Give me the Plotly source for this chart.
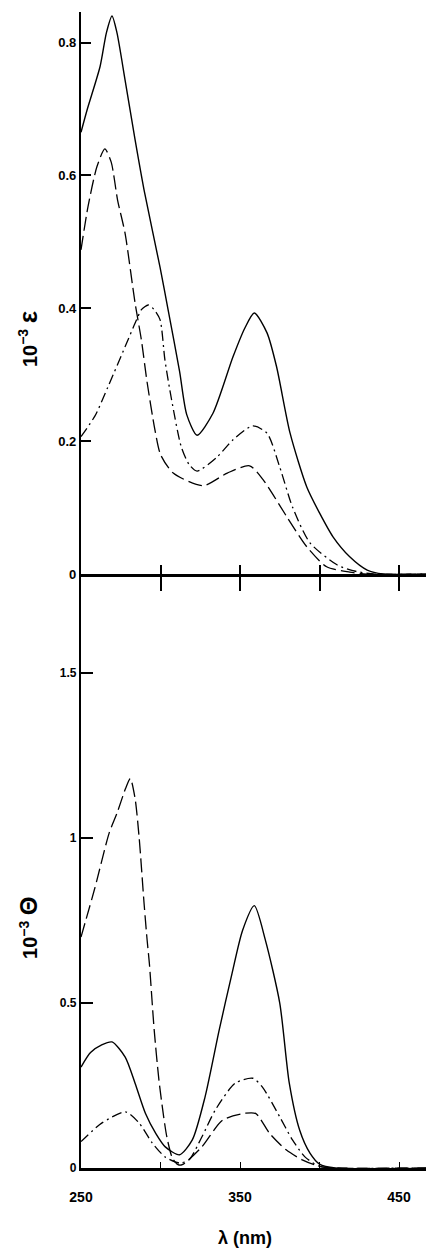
import plotly.graph_objects as go

# ---------------- data ----------------
# Top panel: absorption, 10^-3 epsilon
eps_solid_wl = [250, 254, 262, 266, 269.5, 272.6, 277.7, 284, 290, 299.7, 305, 312, 316.5, 323, 333, 345.6, 353, 359, 367, 373, 381.5, 392, 400, 408.5, 419, 430, 440, 470]
eps_solid = [0.665, 0.70, 0.764, 0.815, 0.84, 0.815, 0.744, 0.654, 0.574, 0.462, 0.395, 0.305, 0.240, 0.209, 0.242, 0.327, 0.37, 0.393, 0.363, 0.312, 0.212, 0.131, 0.092, 0.056, 0.026, 0.006, 0.0, 0.0]

eps_dash_wl = [250, 254.4, 260, 265, 269, 273, 277.7, 284, 288, 291.5, 296.5, 300, 308, 326.7, 342, 356, 364.5, 379.5, 392, 404.5, 419, 430, 470]
eps_dash = [0.488, 0.553, 0.613, 0.64, 0.62, 0.563, 0.513, 0.408, 0.352, 0.29, 0.217, 0.18, 0.152, 0.133, 0.152, 0.163, 0.142, 0.086, 0.041, 0.011, 0.003, 0.0, 0.0]

eps_dashdot_wl = [250, 258.8, 267, 277.7, 285, 288, 292.3, 296, 299.7, 302.8, 307, 313, 318, 323, 335.5, 345.6, 358, 367, 375, 383, 394, 411, 421, 435, 470]
eps_dashdot = [0.207, 0.238, 0.282, 0.342, 0.383, 0.398, 0.405, 0.398, 0.383, 0.322, 0.262, 0.192, 0.165, 0.155, 0.176, 0.202, 0.223, 0.212, 0.161, 0.101, 0.047, 0.014, 0.005, 0.0, 0.0]

# Bottom panel: circular dichroism, 10^-3 theta
th_solid_wl = [250, 256, 263, 269.5, 277.8, 284, 290.5, 297, 303, 312, 320, 328, 337, 345, 351.6, 359, 366, 375, 381, 387.5, 394, 400, 410, 470]
th_solid = [0.306, 0.35, 0.373, 0.382, 0.336, 0.257, 0.166, 0.105, 0.064, 0.04, 0.085, 0.215, 0.42, 0.59, 0.72, 0.795, 0.69, 0.50, 0.257, 0.115, 0.045, 0.012, 0.0, 0.0]

th_dash_wl = [250, 258.8, 267.7, 272.7, 278, 281, 284, 286.6, 289.7, 291.6, 293, 296, 299, 302, 304, 307.5, 311, 313.7, 326, 339, 353.5, 360, 368.6, 379, 389.5, 400, 410, 470]
th_dash = [0.70, 0.85, 1.015, 1.076, 1.15, 1.18, 1.12, 1.0, 0.80, 0.69, 0.62, 0.42, 0.267, 0.155, 0.094, 0.03, 0.01, 0.01, 0.064, 0.145, 0.166, 0.165, 0.105, 0.055, 0.024, 0.005, 0.0, 0.0]

th_dashdot_wl = [250, 263, 278, 286.6, 294.8, 303, 312, 318, 326, 334.5, 347, 358, 364, 375, 383, 391, 400, 410, 470]
th_dashdot = [0.08, 0.136, 0.17, 0.136, 0.076, 0.033, 0.015, 0.025, 0.094, 0.176, 0.257, 0.272, 0.246, 0.155, 0.085, 0.033, 0.005, 0.0, 0.0]

eps_ticks = [0, 0.2, 0.4, 0.6, 0.8]
eps_ticktext = ["0", "0.2", "0.4", "0.6", "0.8"]
th_ticks = [0, 0.5, 1, 1.5]
th_ticktext = ["0", "0.5", "1", "1.5"]
x_labels = [250, 350, 450]
x_minor = [300, 350, 400, 450]

# ---------------- styling ----------------
XR = [250, 469.5]
DASH = "14px,5px"
DASHDOT = "10px,4px,2px,4px"
FONT = dict(family="Liberation Sans, Arial, sans-serif", color="black", size=13, weight="bold")

fig = go.Figure()

def add(x, y, dash, xa, ya, w=1.3):
    fig.add_trace(go.Scatter(x=x, y=y, mode="lines", xaxis=xa, yaxis=ya,
                             line=dict(color="black", width=w, dash=dash,
                                       shape="spline", smoothing=0.7),
                             showlegend=False, hoverinfo="skip"))

add(eps_solid_wl, eps_solid, "solid", "x", "y", 1.4)
add(eps_dash_wl, eps_dash, DASH, "x", "y")
add(eps_dashdot_wl, eps_dashdot, DASHDOT, "x", "y")
add(th_solid_wl, th_solid, "solid", "x2", "y2", 1.4)
add(th_dash_wl, th_dash, DASH, "x2", "y2")
add(th_dashdot_wl, th_dashdot, DASHDOT, "x2", "y2")
# empty trace so the overlay tick axis is drawn
fig.add_trace(go.Scatter(x=[], y=[], xaxis="x3", yaxis="y", showlegend=False))

split = 0.5138

# page body has an 8px margin, so the figure is 8px smaller than the window
fig.update_layout(
    width=426, height=1243,
    margin=dict(l=73, r=4, t=4, b=83),
    paper_bgcolor="white", plot_bgcolor="white",
    font=FONT,
    xaxis=dict(domain=[0, 1], anchor="y", range=XR, showline=True, linewidth=3,
               linecolor="black", showgrid=False, zeroline=False,
               tickvals=x_minor, ticks="outside", ticklen=14, tickwidth=1.5,
               tickcolor="black", showticklabels=False),
    xaxis3=dict(overlaying="x", anchor="y", range=XR, showline=False,
                showgrid=False, zeroline=False, tickvals=x_minor,
                ticks="inside", ticklen=9, tickwidth=1.5, tickcolor="black",
                showticklabels=False),
    yaxis=dict(domain=[split, 1], anchor="x", range=[0, 0.846], showline=True,
               linewidth=2.2, linecolor="black", showgrid=False, zeroline=False,
               tickvals=eps_ticks, ticktext=eps_ticktext, ticks="inside",
               ticklen=10, tickwidth=2, tickcolor="black",
               tickfont=dict(size=13)),
    xaxis2=dict(domain=[0, 1], anchor="y2", range=XR, showline=True, linewidth=2.6,
                linecolor="black", showgrid=False, zeroline=False,
                tickvals=x_labels, ticktext=[str(v) for v in x_labels],
                ticks="", tickfont=dict(size=14), ticklabelstandoff=14,
                minor=dict(tickvals=x_minor, ticks="inside", ticklen=6,
                           tickwidth=1.2, tickcolor="black")),
    yaxis2=dict(domain=[0, split], anchor="x2", range=[0, 1.8], showline=True,
                linewidth=2.2, linecolor="black", showgrid=False, zeroline=False,
                tickvals=th_ticks, ticktext=th_ticktext, ticks="inside",
                ticklen=12, tickwidth=2, tickcolor="black",
                tickfont=dict(size=12)),
    annotations=[
        dict(text="10<sup>−3</sup> <span style='font-size:26px'>ε</span>",
             xref="paper", yref="paper",
             x=-0.152, y=0.717, textangle=-90, showarrow=False,
             font=dict(size=20, weight="bold"), xanchor="center", yanchor="middle"),
        dict(text="10<sup>−3</sup> <span style='font-size:24px'>Θ</span>",
             xref="paper", yref="paper",
             x=-0.152, y=0.2076, textangle=-90, showarrow=False,
             font=dict(size=20, weight="bold"), xanchor="center", yanchor="middle"),
        dict(text="λ (nm)", xref="paper", yref="paper",
             x=0.47, y=-0.0606, showarrow=False,
             font=dict(size=18, weight="bold"), xanchor="center", yanchor="middle"),
    ],
)

fig.write_html("out.html")
